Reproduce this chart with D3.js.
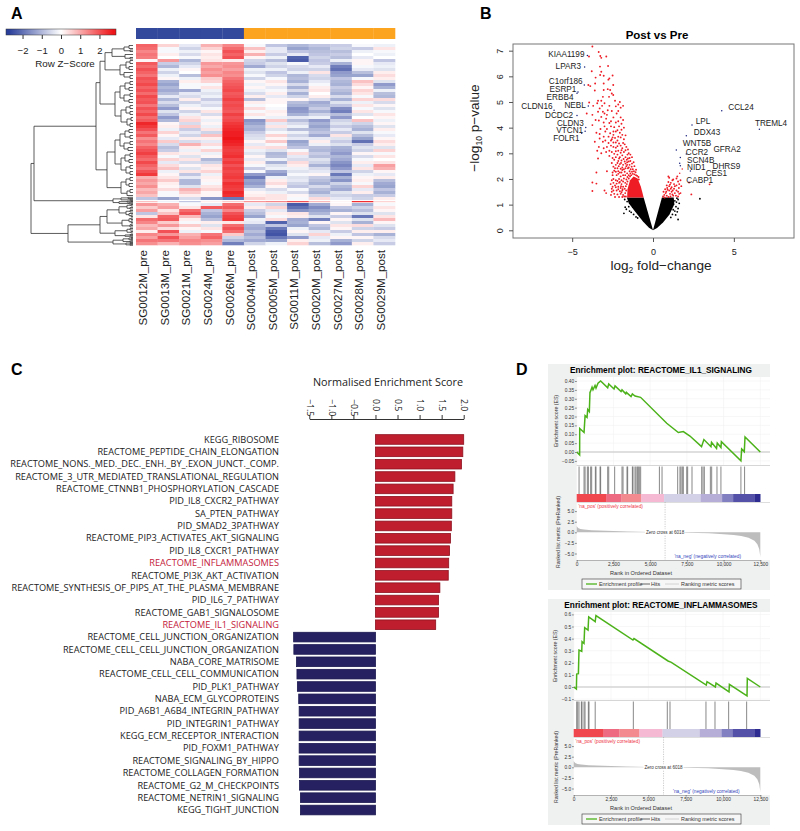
<!DOCTYPE html>
<html><head><meta charset="utf-8">
<script src="https://cdn.jsdelivr.net/npm/d3@7"></script>
<style>html,body{margin:0;padding:0;background:#fff}svg{display:block}text{font-family:"Liberation Sans",Arial,sans-serif}</style>
</head><body><svg id="c" width="800" height="831"></svg>
<script>
// ---------- Panel A data ----------
const samples=["SG0012M_pre","SG0013M_pre","SG0021M_pre","SG0024M_pre","SG0026M_pre","SG0004M_post","SG0005M_post","SG0011M_post","SG0020M_post","SG0027M_post","SG0028M_post","SG0029M_post"];
const sampleGroup=["pre","pre","pre","pre","pre","post","post","post","post","post","post","post"];
const zTicks=[-2,-1,0,1,2];
const heatRows=[
[1.8,.5,-.3,.9,1.4,-.1,-.8,-1,-.8,-.7,-.1,-.2],
[1.7,-.1,-.6,.5,1.7,.7,-.3,-1.3,-1,-.6,-.7,.3],
[1.4,-.1,-.2,.1,2,.2,-.3,-.8,-.9,-.9,-.2,-.1],
[1.6,.2,-.5,.3,1.8,.9,-.7,-.3,-.8,-.7,0,-.2],
[1.5,0,-.1,.2,2,.1,-.2,-2.2,-.6,-.9,-.3,0],
[.1,1.2,-1,.3,.2,-.6,-.9,-2.3,-.8,-.2,.1,-.8],
[1.9,-.7,-.6,1.2,1.2,-.7,-.4,-.1,-.7,-1.1,.1,-.3],
[1.7,-1,-.3,1,1.3,-1.2,-.6,-.5,-.3,-1.8,-.1,-.2],
[2,-.2,.1,1.3,1.1,-.2,-.2,-.6,-.6,-2,-.3,-.4],
[1.8,-.6,0,1.1,1.4,-.4,-.8,-.2,.3,-1.4,-.9,.2],
[1.6,-.2,-.9,1.3,1.3,-.1,-.6,-1,-.5,-1.3,-1.3,.4],
[2,.1,-.2,.6,1.6,-.6,-.1,-.9,-.6,-.8,-.1,.2],
[1.9,-1.1,.2,.5,1.8,.1,.3,-1.1,-.3,-1,.7,-.4],
[2.1,-1.3,-.1,-.1,1.9,-.2,.1,-.5,-.1,-1.1,.4,-1.4],
[1.8,-1,-.1,.3,2,.1,-.3,-1.1,.2,-.7,.1,-1.1],
[2,-1.2,-1.2,-.2,2.1,-.2,-.1,-.5,.3,-.9,.5,-.2],
[1.7,-.9,-.3,-.4,1.9,-.5,.2,-1.1,0,-1.1,.3,-.9],
[2.1,-.3,-.5,-.2,2,.2,-.3,-.6,.2,-.5,-.1,-1],
[1.9,-1,.2,-.7,2.2,-.9,.1,.1,-.5,-1.1,.5,.4],
[2,-.5,-.6,-.3,2,.2,.1,-.9,-1.2,-.4,-.2,-.5],
[1.6,-.9,-.2,-.5,2.1,-.1,0,-1.1,-1,-.8,.3,.1],
[2,-1.4,.1,-.1,2,.4,-.1,-1.5,-.7,-1.6,-.1,-.4],
[1.8,-.4,-.6,.3,1.9,-.1,.2,-1.4,-1.1,-1.8,.3,-.1],
[2.1,-.8,-.2,-.5,2.2,.3,.1,-1.1,-.6,-.9,-.4,.3],
[1.7,-1.4,.3,.1,2,-.1,-.2,-.3,-.2,-1.4,0,.1],
[1.9,-1,.5,-.2,2.1,-1.5,.6,-.9,-1.4,-.6,.7,-.2],
[2.5,.1,-.5,.1,2.3,-1.3,-.3,-.5,-1.1,-.4,-.6,.1],
[2.3,.2,.6,-.2,2.4,-1,.3,-.2,-1.3,-.7,-.9,-.4],
[2,-.2,-.7,.3,2.5,-1.1,-.4,-.9,-1,-.3,-1.1,.2],
[1.6,.5,-.3,-.6,2.6,-.7,-.1,-.2,-.8,-.7,-.4,-.1],
[1.9,.1,-.6,.7,2.6,-.5,.5,-.6,-1.2,.3,-.9,-.3],
[1.3,-.3,.2,.2,2.7,-.4,.1,-.3,-.3,-.4,-1.3,.1],
[1.6,.6,-.5,-.3,2.6,.1,.6,-1.3,.2,-.7,-2,.4],
[1.4,-.5,.9,.4,2.5,-.3,-.1,-1.1,-.2,-.4,-.7,.2],
[1.8,-.9,.2,-.1,2.3,.3,.4,-.8,-.9,-1.1,-.4,-.4],
[2,-.7,-.2,.5,2.2,-.2,-.4,-.1,-1,-1.2,-.6,.5],
[2.2,.3,.2,-.2,2.3,-.4,-1,.4,-.7,-1.4,.1,-.1],
[1.9,-.1,-.4,.1,2.4,.1,-.9,-.3,-.9,-1,-.5,.3],
[1.7,.5,.3,-1,2.1,-.3,-.2,-.5,-.4,-1.2,-.1,0],
[2.1,-.3,-.5,-.6,2.3,.2,-1.1,.4,-.6,-1.5,.2,.3],
[1.8,.4,.1,.3,2,-.1,-.4,.2,-1.1,-1.7,-.3,1.1],
[1.6,.7,-.4,.2,2.2,-.7,-.2,-.2,-.5,-1.4,.3,.9],
[2,-.2,.3,.5,2.1,-.1,-1.2,-.4,-.3,-.8,-.6,.1],
[2.3,.1,-.8,-.2,2.2,-1.4,-1.5,-.1,.1,-1.9,-.2,-.3],
[.9,.3,-.3,.2,2.3,-1.9,-.2,-.4,-.7,-1.1,.1,.2],
[1.2,.6,-1,.1,2.1,-1.3,.2,-.3,-.9,-1.5,.2,-.9],
[1,.2,-1,-.1,2.4,-1.4,.4,-.6,-1.1,-.6,-.1,-1.2],
[1.3,.1,-.4,.3,2.3,-1.1,.1,-.8,-.5,-1,.5,-1.3],
[.8,.4,.9,.5,2.2,-.3,-.5,-.1,-.9,-1.2,-.3,-.8],
[1,-.1,.6,.1,2.5,.1,-.2,-.5,-1.1,-.4,.2,-1.1],
[.7,-.1,.2,.1,2.4,.2,.3,.1,-.6,-.6,-.7,-.7],
[-.8,-1.3,-.5,-1.5,-1.9,.5,.3,-.1,.4,-.3,-.6,.2],
[.7,-.2,-.8,.2,.6,1.2,1.4,2,.8,.1,2.4,.5],
[1.2,.9,-.1,-.3,1.7,-.3,-.6,-2.3,-1.2,.1,-1.1,-.1],
[.6,1.1,.3,1.9,1.9,.2,.5,-2,-1.6,-.8,-.6,.3],
[1.1,.3,1.7,-.8,1.4,-.7,-.3,-1.5,-1.3,-1.1,-.9,.1],
[-.8,.7,2,-1.1,2,-.9,.2,.3,-1,.1,-.4,-.4],
[.3,1.8,.8,-1.3,2.2,-1.3,-.1,.2,-.4,-.7,-1.9,.3],
[1.7,1.9,.2,-.9,2.3,-.2,.4,-1.2,-1.8,.1,-.4,.8],
[1.4,.6,-.1,.2,.3,-.3,-2.2,-1.1,.1,-.4,-1.1,.1],
[.8,1.2,.6,-.4,1.7,-1.1,-.8,-1.3,-.8,.3,.4,-.4],
[1,.4,.1,.3,2,-1.2,-1.9,-.2,-1,.1,-.6,-.7],
[.2,2,-.2,-.1,1.7,-.9,-2.3,.1,-.3,-.7,.2,.2],
[1.4,1.2,.9,1.6,.6,-1.2,-2.4,-.4,.5,-.2,-.8,-1.1],
[1.1,2,1.1,1.8,-.6,-.9,-1.9,-1.4,-.3,.1,.1,-.5],
[1.6,1.6,1.4,1.3,-1,-1.2,-1.3,.2,-.2,-1.1,-.6,-.3],
[1.3,.9,1.3,1.1,-1.8,-.6,-.2,.5,-.9,-1.4,.2,-.7]
];
// dendrogram: [merge height, child, child]; the numbers at the ends are row positions
const dendro=[102,
 [99,
  [37,
   [33,
    [28,
     [21,[9,[4,0,1],[3,1.5,2]],[8,3,[3,4,4.5]]],
     [13,[7,[3,5,6],[4,7,8]],[9,9,[3,10,11]]]],
    [18,
     [13,[8,[3,12,13],[4,14,15]],[9,[3,16,17],[4,18,19]]],
     [12,[7,[3,20,21],[3,22,23]],[6,[2,24,25],[3,26,27]]]]],
   [26,
    [18,
     [13,[8,[4,28,29],[3,30,31]],[9,[3,32,33],[5,34,35]]],
     [12,[8,[3,36,37],[4,38,39]],[7,[3,40,41],[3,42,43]]]],
    [12,[7,[3,44,45],[4,46,47]],[6,[3,48,49],50]]]],
  [20,[12,[5,50.6,51],[3,51.3,51.6]],[14,[6,[2,51.8,52],52.2],[4,52.5,52.8]]]],
 [65,
  [33,
   [26,
    [14,[6,[2,53,53.5],[3,54,54.5]],[7,[3,55,55.5],[4,56,[2,56.5,57]]]],
    [11,[4,[2,57.5,58],[2,58.5,59]],[3,[2,59.5,60],60.5]]],
   [18,[6,[3,61,61.5],[2,62,62.5]],[8,[3,63,63.3],63.6]]],
  [20,[10,[4,[2,64,64.3],[2,64.6,64.9]],[3,65.2,65.5]],[7,[3,65.7,66],[3,66.3,66.6]]]]];
// ---------- Panel B data ----------
const xTicksB=[-5,0,5], yTicksB=[0,1,2,3,4,5,6,7];
const redDenseOutline=[[-.58,1.28],[-.75,1.7],[-.95,2.02],[-1.2,2.1],[-1.42,1.95],[-1.58,1.6],[-1.6,1.28]];
const blackLeftOutline=[[0,0],[-.58,1.28],[-1.62,1.28],[-1.5,1.05],[-1.1,.72],[-.62,.34],[-.25,.1]];
const blackRightOutline=[[0,0],[.55,1.28],[1.28,1.28],[1.32,1.02],[1.02,.62],[.62,.3],[.25,.09]];
const blackPoints=[[2.9,1.23],[1.55,.42],[-1.8,.66],[-1.65,.82],[-1.25,.9],[-1.72,.9],[1.5,.72],[1.55,.85],[1.45,1.1],[1.55,1.2],[1.62,1.05],[-1.5,.92],[-1.6,1.12],[-1.75,1.2],[1.4,.6],[1.35,.75],[-1.45,.75],[-1.2,.62],[-1.05,.52],[-1.35,.7],[-.95,.48],[1.2,.62],[1.1,.5],[1.42,.92],[1.25,.8],[1.35,1.15],[1.48,1.25]];
const redPoints=[[-3.75,7.16],[-3.36,6.95],[-3.26,6.79],[-3.2,6.72],[-2.89,6.77],[-3.96,6.77],[-3.28,6.38],[-2.78,6.4],[-3.79,6.2],[-3.2,6.18],[-3.27,6.05],[-3.05,6.02],[-3.55,5.95],[-2.5,6.03],[-2.7,5.92],[-2.76,5.87],[-3.05,5.72],[-4.0,5.66],[-3.88,5.62],[-3.58,5.72],[-2.46,5.66],[-2.8,5.5],[-2.65,5.47],[-3.05,5.47],[-2.55,5.33],[-3.6,5.45],[-2.46,5.27],[-2.72,5.2],[-3.4,5.05],[-3.2,5.05],[-2.05,5.0],[-2.15,4.9],[-1.85,4.85],[-2.3,4.83],[-2.0,4.78],[-3.95,4.98],[-3.7,4.85],[-3.3,4.75],[-3.15,4.85],[-3.4,4.62],[-3.1,4.62],[-3.0,4.55],[-2.8,4.68],[-2.55,4.65],[-4.1,4.55],[-3.75,4.5],[-3.2,4.42],[-2.9,4.35],[-2.45,4.4],[-2.0,4.4],[-1.85,4.3],[-3.35,4.28],[-3.05,4.2],[-2.7,4.18],[-2.3,4.2],[-1.95,4.15],[-3.75,4.1],[-2.6,4.05],[-2.4,4.02],[-2.1,4.05],[-1.8,4.0],[-1.95,3.92],[-2.85,3.95],[-3.5,3.8],[-3.3,3.75],[-2.95,3.85],[-2.65,3.78],[-2.45,3.72],[-2.3,3.85],[-2.05,3.8],[-2.5,3.62],[-3.3,3.58],[-2.55,3.55],[-2.35,3.6],[-2.2,3.5],[-2.0,3.62],[-1.8,3.55],[-3.6,3.45],[-3.1,3.45],[-2.75,3.4],[-2.45,3.42],[-2.1,3.38],[-1.75,3.35],[-3.35,3.25],[-3.05,3.2],[-2.85,3.25],[-2.6,3.3],[-2.3,3.22],[-1.9,3.2],[-1.65,3.25],[-1.55,3.15],[-3.45,3.1],[-3.2,3.0],[-2.9,3.05],[-2.55,3.05],[-2.15,3.1],[-2.0,3.02],[-1.8,3.05],[-1.5,3.0],[-1.4,2.95],[-3.4,2.8],[-2.7,2.9],[-2.2,2.95],[-2.05,2.85],[-1.9,2.92],[-1.7,2.85],[-1.55,2.8],[-1.3,2.85],[-2.4,2.75],[-2.15,2.7],[-1.95,2.72],[-1.75,2.68],[-1.6,2.65],[-1.4,2.7],[-1.2,2.65],[-2.3,2.55],[-2.05,2.58],[-1.85,2.55],[-1.65,2.5],[-1.45,2.55],[-1.15,2.5],[-2.45,2.48],[-2.2,2.42],[-2,2.4],[-1.8,2.38],[-1.55,2.42],[-2.4,2.32],[-2.15,2.3],[-1.95,2.25],[-1.75,2.28],[-3.5,2.25],[-2.85,2.3],[-2.5,2.15],[-2.25,2.15],[-2,2.1],[-1.85,2.15],[-2.45,2.0],[-2.3,1.95],[-2.1,2.0],[-1.95,1.95],[-2.45,1.85],[-2.25,1.82],[-2.1,1.85],[-1.95,1.8],[-3.75,1.86],[-3.5,1.82],[-2.5,1.7],[-2.3,1.68],[-2.15,1.7],[-2,1.65],[-1.85,1.7],[-2.45,1.55],[-2.25,1.55],[-2.05,1.52],[-1.9,1.55],[-3.75,1.53],[-3.0,1.55],[-2.9,1.45],[-2.4,1.42],[-2.2,1.4],[-2,1.42],[-1.85,1.38],[-2.35,1.3],[-1.9,1.3],[-1.78,1.32],
[.62,1.32],[.7,1.38],[.65,1.5],[.78,1.45],[.85,1.35],[.95,1.3],[1.05,1.42],[.75,1.6],[.9,1.58],[1.0,1.55],[1.15,1.5],[1.25,1.35],[1.35,1.45],[.85,1.75],[1,1.72],[1.15,1.68],[1.3,1.62],[1.45,1.55],[1.55,1.32],[.95,1.88],[1.1,1.85],[1.3,1.8],[1.45,1.75],[1.6,1.65],[1,2.05],[.95,2.1],[1.25,1.98],[1.45,2.02],[1.55,1.9],[1.7,1.95],[1.75,1.72],[1.5,2.1],[1.7,1.45],[2.37,1.4],[3.5,1.79],[2.23,1.86],[1.2,1.95],[1.62,1.8]];
const redPointsCore=[[-1.68,1.32],[-1.72,1.45],[-1.66,1.55],[-1.75,1.62],[-1.68,1.72],[-1.62,1.8],[-1.72,1.85],[-1.58,1.9],[-1.65,1.98],[-1.5,2.02],[-1.58,2.08],[-1.42,2.1],[-1.5,2.15],[-1.35,2.15],[-1.25,2.2],[-1.4,2.22],[-1.15,2.18],[-1.05,2.15],[-.98,2.12],[-1.3,2.28],[-1.18,2.3],[-1.08,2.26],[-1.45,2.3],[-1.6,2.22],[-.9,2.08],[-.88,1.98],[-1.25,2.38],[-1.38,2.38],[-1.05,2.36],[-1.5,2.45],[-1.32,2.48],[-1.72,2.15],[-1.8,2.02],[-1.85,1.9],[-1.88,1.6],[-1.95,1.48],[-2.1,1.3],[-2.15,1.6],[-1.98,1.72],[-2.05,1.88],[-2.2,1.92],[-2.35,1.75],[-2.55,1.5],[-2.6,1.38],[-2.55,1.62],[-2.62,1.8],[-2.55,1.95],[-2.5,2.25],[-2.3,2.28],[-2.15,2.2],[-2.05,2.25],[-1.9,2.35],[-1.7,2.42],[-1.6,2.55],[-1.9,2.45],[-2.12,2.5],[-2.35,2.42],[-2.55,2.62],[-2.2,2.62],[-1.98,2.62],[-1.7,2.6],[-1.5,2.68],[-1.3,2.6],[-2.3,2.85],[-2.5,2.82],[-2.1,2.8],[-1.82,2.78],[-1.62,2.75],[-1.45,2.82],[-2.4,2.98],[-2.7,3.1],[-2.3,3.08],[-1.95,3.12],[-1.7,3.12],[-1.58,2.95],[-2.45,3.25],[-2.2,3.28],[-2.0,3.3],[-1.85,3.4],[-2.3,3.42],[-2.6,3.5],[-2.95,3.5],[-2.15,3.65],[-1.9,3.72],[-2.45,3.85],[-2.2,3.9],[-2.75,3.65],[-3.05,3.65],[-1.7,3.7],[-2.6,4.25],[-2.15,4.25],[-2.85,4.5],[-2.25,4.55],[-2.7,4.85],[-3.45,4.95],[-3.1,5.2],[-3.0,4.95],[-2.35,5.05],[-2.15,4.65],[-3.55,4.3],[-3.25,3.95],[-3.0,4.05],
[.72,1.28],[.82,1.5],[1.08,1.32],[1.2,1.4],[1.42,1.35],[.88,1.65],[1.1,1.62],[1.22,1.55],[1.35,1.72],[1.05,1.78],[1.55,1.5],[1.62,1.42]];
const genes=["KIAA1199","LPAR3","C1orf186","ESRP1","ERBB4","NEBL","CLDN16","DCDC2","CLDN3","VTCN1","FOLR1","CCL24","TREML4","LPL","DDX43","WNT5B","GFRA2","CCR2","SCN4B","DHRS9","NID1","CES1","CABP1"];
const geneLfc=[-4.06,-4.23,-4.25,-4.7,-4.64,-4,-6.12,-4.7,-4.16,-4.2,-4.41,4.25,6.58,2.41,2.06,1.44,2.06,1.69,1.65,2.31,1.69,1.81,1.65];
const geneP=[6.81,6.36,5.66,5.34,5.39,4.84,4.68,4.47,4.01,3.86,3.78,4.66,3.94,4.1,3.68,3.13,2.97,2.84,2.61,2.31,2.52,2.39,2.22];
const labelLfc=[-5.36,-5.24,-5.4,-5.57,-5.75,-4.82,-7.18,-5.81,-5.11,-5.15,-5.36,5.44,7.3,3.09,3.34,2.72,4.58,2.72,2.95,4.54,2.68,3.92,2.89];
const labelP=[6.87,6.39,5.82,5.49,5.19,4.87,4.84,4.51,4.19,3.91,3.61,4.82,4.19,4.26,3.84,3.4,3.16,3.05,2.75,2.51,2.48,2.25,1.95];
// ---------- Panel C data ----------
const pathways=["KEGG_RIBOSOME","REACTOME_PEPTIDE_CHAIN_ELONGATION","REACTOME_NONS._MED._DEC._ENH._BY_.EXON_JUNCT._COMP.","REACTOME_3_UTR_MEDIATED_TRANSLATIONAL_REGULATION","REACTOME_CTNNB1_PHOSPHORYLATION_CASCADE","PID_IL8_CXCR2_PATHWAY","SA_PTEN_PATHWAY","PID_SMAD2_3PATHWAY","REACTOME_PIP3_ACTIVATES_AKT_SIGNALING","PID_IL8_CXCR1_PATHWAY","REACTOME_INFLAMMASOMES","REACTOME_PI3K_AKT_ACTIVATION","REACTOME_SYNTHESIS_OF_PIPS_AT_THE_PLASMA_MEMBRANE","PID_IL6_7_PATHWAY","REACTOME_GAB1_SIGNALOSOME","REACTOME_IL1_SIGNALING","REACTOME_CELL_JUNCTION_ORGANIZATION","REACTOME_CELL_CELL_JUNCTION_ORGANIZATION","NABA_CORE_MATRISOME","REACTOME_CELL_CELL_COMMUNICATION","PID_PLK1_PATHWAY","NABA_ECM_GLYCOPROTEINS","PID_A6B1_A6B4_INTEGRIN_PATHWAY","PID_INTEGRIN1_PATHWAY","KEGG_ECM_RECEPTOR_INTERACTION","PID_FOXM1_PATHWAY","REACTOME_SIGNALING_BY_HIPPO","REACTOME_COLLAGEN_FORMATION","REACTOME_G2_M_CHECKPOINTS","REACTOME_NETRIN1_SIGNALING","KEGG_TIGHT_JUNCTION"];
const nes=[2,1.98,1.95,1.8,1.76,1.73,1.73,1.72,1.7,1.68,1.66,1.65,1.46,1.43,1.43,1.365,-1.855,-1.85,-1.79,-1.78,-1.77,-1.74,-1.73,-1.73,-1.73,-1.73,-1.73,-1.72,-1.72,-1.7,-1.7];
const highlighted=["REACTOME_INFLAMMASOMES","REACTOME_IL1_SIGNALING"];
const nesTicks=[-1.5,-1,-.5,0,.5,1,1.5,2];
// ---------- Panel D data ----------
const rankTicks=[0,2500,5000,7500,10000,12500];
const metricTicks=[5,2.5,0,-2.5,-5];
const metricRank=[0,30,100,250,500,1000,2000,3500,5000,6018,7500,9000,10000,10700,11200,11700,12100,12300,12430,12490,12500];
const metricVal=[1.5,1.3,1.0,.8,.65,.5,.35,.2,.08,0,-.1,-.25,-.45,-.65,-.9,-1.3,-2,-2.8,-4,-5.5,-6];
const stripRanks=[0,2000,3050,4400,5950,8450,9900,10650,12100,12500];
const stripColors=["#f0474e","#ee6a80","#f28a90","#f5b9d4","#d3d1e8","#b7aed8","#8280c0","#5451a8","#2e2c90"];
const il1Rank=[0,200,205,500,570,705,750,860,905,910,1045,1110,1250,1315,1450,1630,2110,2180,2540,2610,3020,3085,3340,3380,3700,3790,3970,4350,6130,6920,7260,7710,8500,8660,9140,9180,9520,9570,9820,9850,11180,11230,11410,11460,12500];
const il1ES=[0,-.017,.133,.11,.205,.195,.24,.228,.34,.335,.365,.35,.375,.36,.387,.40,.362,.383,.355,.372,.34,.35,.328,.336,.312,.327,.315,.308,.162,.11,.115,.09,.03,.07,.03,.055,.02,.05,.025,.058,-.05,.017,.002,.085,0];
const il1Hits=[160,500,570,725,795,950,1020,1270,1315,1590,1630,2110,2180,2585,3085,3155,3425,3470,3790,3835,3970,4040,4130,4195,4265,4355,5630,5810,6875,7030,7100,7190,7260,7490,7555,7850,8510,8600,8690,9100,9190,9550,9820,11180,11430];
const inflRank=[0,180,200,315,335,355,540,560,690,735,960,1005,1440,1490,3970,4040,6320,6540,8880,8930,9490,9535,10405,10430,11610,11630,12500];
const inflES=[0,-.016,.107,.11,.21,.305,.295,.375,.36,.49,.47,.58,.54,.59,.388,.4,.215,.204,.016,.044,0,.033,-.04,.022,-.074,.072,0];
const inflHits=[200,270,355,514,558,692,760,982,1027,1440,3995,6270,6450,8860,9465,10380,11585];
const esTicksA=[.4,.35,.3,.25,.2,.15,.1,.05,0,-.05];
const esTicksB=[.6,.5,.4,.3,.2,.1,0,-.1];
// ---------- Drawing ----------
const svg=d3.select("#c");
function letter(t,x,y){svg.append("text").attr("x",x).attr("y",y).attr("font-size",16).attr("font-weight","bold").text(t);}
letter("A",11,19);letter("B",480,19);letter("C",11,375);letter("D",516,375);

// ---- A ----
const zColor=d3.scaleLinear().domain([-2.7,0,2.7]).range(["#2a3f9a","#ffffff","#ee1519"]).clamp(true);
const hx=d3.scaleBand().domain(d3.range(samples.length)).range([136,395]);
const hy=d3.scaleBand().domain(d3.range(heatRows.length)).range([44,245]);
const A=svg.append("g");
const gc={pre:"#33499b",post:"#fca41f"};
A.selectAll("rect.g").data(sampleGroup).join("rect").attr("x",(d,i)=>hx(i)).attr("width",hx.bandwidth()+.3).attr("y",28).attr("height",11).attr("fill",d=>gc[d]);
heatRows.forEach((row,r)=>{
 // the two narrow bands at the cluster boundary are thinner than the other rows in the reference
 A.append("g").selectAll("rect").data(row).join("rect").attr("x",(d,i)=>hx(i)).attr("y",hy(r)+(r===52?.9:0)).attr("width",hx.bandwidth()+.3).attr("height",r===52?1.6:hy.bandwidth()+.3).attr("fill",d=>zColor(d));
 if(r===52){A.append("g").selectAll("rect").data(row).join("rect").attr("x",(d,i)=>hx(i)).attr("y",hy(r)).attr("width",hx.bandwidth()+.3).attr("height",.9).attr("fill",zColor(0));A.append("g").selectAll("rect").data(row).join("rect").attr("x",(d,i)=>hx(i)).attr("y",hy(r)+2.5).attr("width",hx.bandwidth()+.3).attr("height",.8).attr("fill",zColor(0));}
});
samples.forEach((s,i)=>{
 A.append("text").attr("transform",`translate(${hx(i)+hx.bandwidth()/2+.5},250) rotate(-90)`).attr("text-anchor","end").attr("font-size",11.6).attr("fill","#222").text(s);
});
// key
const kx=d3.scaleLinear().domain([-2.86,2.86]).range([6,116]);
const lg=svg.append("defs").append("linearGradient").attr("id","key");
[-2.7,-1.35,0,1.35,2.7].forEach(v=>lg.append("stop").attr("offset",(kx(v)-6)/110).attr("stop-color",zColor(v)));
A.append("rect").attr("x",6).attr("y",29).attr("width",110).attr("height",6).attr("fill","url(#key)").attr("stroke","#333").attr("stroke-width",.5);
const keyAxis=d3.axisBottom(kx).tickValues(zTicks).tickSize(4).tickFormat(d=>d<0?"\u2212"+(-d):d);
const kg=A.append("g").attr("transform","translate(0,35)").call(keyAxis);
kg.select(".domain").remove();kg.selectAll("line").attr("stroke","#333");
kg.selectAll("text").attr("font-size",9.5).attr("fill","#222").attr("y",12).attr("dy","0.71em");
A.append("text").attr("x",65).attr("y",67).attr("text-anchor","middle").attr("font-size",9.8).attr("fill","#222").text("Row Z\u2212Score");
// dendrogram
const dh=d3.scaleLinear().domain([0,102]).range([133,31]);
const dLines=[];
const rowMid=r=>hy(0)+hy.step()*(r+.5);
function layout(n){
 if(typeof n==="number")return{y:rowMid(n),h:0};
 const a=layout(n[1]),b=layout(n[2]);
 dLines.push([n[0],a.y,n[0],b.y],[n[0],a.y,a.h,a.y],[n[0],b.y,b.h,b.y]);
 return{y:(a.y+b.y)/2,h:n[0]};
}
layout(dendro);
A.append("g").selectAll("line").data(dLines).join("line").attr("x1",d=>dh(d[0])).attr("x2",d=>dh(d[2])).attr("y1",d=>d[1]).attr("y2",d=>d[3]).attr("stroke","#333").attr("stroke-width",.8);

// ---- B ----
const bx=d3.scaleLinear().domain([-8.66,8.72]).range([513,794]);
const by=d3.scaleLinear().domain([-.3,7.26]).range([238,44]);
const B=svg.append("g");
const polyLine=d3.line().x(d=>bx(d[0])).y(d=>by(d[1])).curve(d3.curveLinearClosed);
B.append("path").attr("d",polyLine(blackLeftOutline)).attr("fill","#000");
B.append("path").attr("d",polyLine(blackRightOutline)).attr("fill","#000");
B.append("path").attr("d",polyLine(redDenseOutline)).attr("fill","#ee1c25");
B.append("g").selectAll("circle").data(blackPoints).join("circle").attr("cx",d=>bx(d[0])).attr("cy",d=>by(d[1])).attr("r",.9).attr("fill","#000");
B.append("g").selectAll("circle").data(redPoints.concat(redPointsCore)).join("circle").attr("cx",d=>bx(d[0])).attr("cy",d=>by(d[1])).attr("r",.95).attr("fill","#ee1c25");
B.append("g").selectAll("circle").data(genes).join("circle").attr("cx",(d,i)=>bx(geneLfc[i])).attr("cy",(d,i)=>by(geneP[i])).attr("r",.75).attr("fill",(d,i)=>(d==="CES1"||d==="CABP1")?"#ee1c25":"#1a237e");
B.append("g").selectAll("text").data(genes).join("text").attr("x",(d,i)=>bx(labelLfc[i])).attr("y",(d,i)=>by(labelP[i])+3).attr("text-anchor","middle").attr("font-size",8.2).attr("fill","#222").text(d=>d);
B.append("rect").attr("x",513).attr("y",44).attr("width",281).attr("height",194).attr("fill","none").attr("stroke","#777").attr("stroke-width",1);
const bxa=B.append("g").attr("transform","translate(0,238)").call(d3.axisBottom(bx).tickValues(xTicksB).tickSize(4).tickFormat(d=>d<0?"\u2212"+(-d):d));
bxa.select(".domain").remove();bxa.selectAll("line").attr("stroke","#555");bxa.selectAll("text").attr("font-size",9).attr("fill","#222").attr("y",11);
const bya=B.append("g").attr("transform","translate(513,0)").call(d3.axisLeft(by).tickValues(yTicksB).tickSize(4));
bya.select(".domain").remove();bya.selectAll("line").attr("stroke","#555");
bya.selectAll("text").attr("font-size",9).attr("fill","#222").attr("x",0).attr("y",0).attr("dy",0).attr("text-anchor","middle").attr("transform","translate(-10,0) rotate(-90)");
B.append("text").attr("x",657).attr("y",39).attr("text-anchor","middle").attr("font-size",11.5).attr("font-weight","bold").text("Post vs Pre");
const xl=B.append("text").attr("x",661).attr("y",270).attr("text-anchor","middle").attr("font-size",13.6).attr("fill","#222");
xl.append("tspan").text("log");xl.append("tspan").attr("font-size",8.5).attr("dy",3).text("2");xl.append("tspan").attr("dy",-3).text(" fold\u2212change");
const yl=B.append("text").attr("transform","translate(479,128) rotate(-90)").attr("text-anchor","middle").attr("font-size",13.6).attr("fill","#222");
yl.append("tspan").text("\u2212log");yl.append("tspan").attr("font-size",8.5).attr("dy",3).text("10");yl.append("tspan").attr("dy",-3).text(" p\u2212value");

// ---- C ----
const cx=d3.scaleLinear().domain([-1.5,2]).range([309.3,463.7]);
const cy=d3.scaleBand().domain(pathways).range([433.3,816.2]).paddingInner(.22).paddingOuter(.11);
const C=svg.append("g");
C.append("g").selectAll("rect").data(nes).join("rect").attr("x",d=>cx(Math.min(0,d))).attr("width",d=>Math.abs(cx(d)-cx(0))).attr("y",(d,i)=>cy(pathways[i])).attr("height",cy.bandwidth()).attr("fill",d=>d>0?"#be1e2d":"#262262").attr("stroke",d=>d>0?"#8e1220":"#1b1850").attr("stroke-width",.8);
C.append("g").selectAll("text").data(pathways).join("text").attr("x",279).attr("y",d=>cy(d)+cy.bandwidth()/2+3.2).attr("text-anchor","end").attr("font-size",9.2).attr("fill",d=>highlighted.includes(d)?"#c4193a":"#222").style("font-family","'Open Sans'").text(d=>d);
const ca=C.append("g").attr("transform","translate(0,419)").call(d3.axisTop(cx).tickValues(nesTicks).tickSize(4).tickSizeOuter(0).tickFormat(d=>(d<0?"\u2212":"")+Math.abs(d).toFixed(1)));
ca.select(".domain").attr("stroke","#333");ca.selectAll("line").attr("stroke","#333");
ca.selectAll("text").attr("font-size",8.8).attr("fill","#222").attr("text-anchor","start").attr("x",0).attr("dy",0).attr("y",0).attr("transform","translate(-3,-20) rotate(90)").style("font-family","'Open Sans'");
C.append("text").attr("x",388).attr("y",386).attr("text-anchor","middle").attr("font-size",10.8).attr("fill","#222").style("font-family","'Open Sans'").text("Normalised Enrichment Score");

// ---- D ----
function gsea(o){
 const g=svg.append("g").attr("transform",`translate(0,${o.dy})`);
 g.append("rect").attr("x",548).attr("y",364).attr("width",222).attr("height",226).attr("fill","#eff0f0");
 g.append("rect").attr("x",o.left).attr("y",377).attr("width",770-o.left).attr("height",183).attr("fill","#fff");
 g.append("text").attr("x",661).attr("y",373).attr("text-anchor","middle").attr("font-size",8.25).attr("font-weight","bold").text(o.title);
 const x=d3.scaleLinear().domain([0,12500]).range([o.left,760.3]);
 const y=d3.scaleLinear().domain(o.esDomain).range(o.esRange);
 g.append("g").selectAll("line").data(o.esTicks).join("line").attr("x1",o.left).attr("x2",770).attr("y1",d=>y(d)).attr("y2",d=>y(d)).attr("stroke","#eee").attr("stroke-width",.5);
 g.append("g").selectAll("line").data(rankTicks).join("line").attr("x1",d=>x(d)).attr("x2",d=>x(d)).attr("y1",377).attr("y2",465).attr("stroke","#eee").attr("stroke-width",.5);
 g.append("line").attr("x1",o.left).attr("x2",770).attr("y1",y(0)).attr("y2",y(0)).attr("stroke","#c4c4c4").attr("stroke-width",1.2);
 g.append("path").attr("d",d3.line().x(d=>x(d[0])).y(d=>y(d[1]))(d3.zip(o.rank,o.es))).attr("fill","none").attr("stroke","#4cb21a").attr("stroke-width",1.5);
 const ea=g.append("g").attr("transform",`translate(${o.left},0)`).call(d3.axisLeft(y).tickValues(o.esTicks).tickSize(1.5).tickFormat(d3.format(o.fmt)));
 ea.select(".domain").remove();ea.selectAll("line").attr("stroke","#777");ea.selectAll("text").attr("font-size",4.8).attr("fill","#333").attr("x",-2.5);
 g.append("rect").attr("x",o.left).attr("y",465).attr("width",770-o.left).attr("height",.6).attr("fill","#bbb");
 g.append("text").attr("transform",`translate(${o.esLabelX},421) rotate(-90)`).attr("text-anchor","middle").attr("font-size",5.2).attr("fill","#333").text("Enrichment score (ES)");
 g.append("g").selectAll("line").data(o.hits).join("line").attr("x1",d=>x(d)).attr("x2",d=>x(d)).attr("y1",466.5).attr("y2",494).attr("stroke","#555").attr("stroke-width",.7);
 g.append("g").selectAll("rect").data(stripColors).join("rect").attr("x",(d,i)=>x(stripRanks[i])).attr("width",(d,i)=>x(stripRanks[i+1])-x(stripRanks[i])+.2).attr("y",494).attr("height",8).attr("fill",d=>d);
 g.append("rect").attr("x",o.left).attr("y",502).attr("width",770-o.left).attr("height",.5).attr("fill","#bbb");
 const m=d3.scaleLinear().domain([-5,5]).range([553.5,511.1]);
 g.append("path").attr("d",d3.area().x(d=>x(d[0])).y0(m(0)).y1(d=>m(d[1]))(d3.zip(metricRank,metricVal))).attr("fill","#bdbdbd");
 g.append("line").attr("x1",x(6018)).attr("x2",x(6018)).attr("y1",502).attr("y2",560).attr("stroke","#999").attr("stroke-width",.5).attr("stroke-dasharray","1.2,1.2");
 g.append("rect").attr("x",x(6018)-20).attr("y",m(0)-3).attr("width",40).attr("height",6).attr("fill","#fff");
 g.append("text").attr("x",x(6018)).attr("y",m(0)+1.5).attr("text-anchor","middle").attr("font-size",4.6).attr("fill","#333").text("Zero cross at 6018");
 g.append("text").attr("x",x(120)).attr("y",507.5).attr("font-size",4.8).attr("fill","#ee3344").text("'na_pos' (positively correlated)");
 g.append("text").attr("x",x(6650)).attr("y",558).attr("font-size",4.8).attr("fill","#3344bb").text("'na_neg' (negatively correlated)");
 const ma=g.append("g").attr("transform",`translate(${o.left},0)`).call(d3.axisLeft(m).tickValues(metricTicks).tickSize(1.5).tickFormat(d3.format(".1f")));
 ma.select(".domain").remove();ma.selectAll("line").attr("stroke","#777");ma.selectAll("text").attr("font-size",4.8).attr("fill","#333").attr("x",-2.5);
 g.append("text").attr("transform",`translate(${o.metricLabelX},532) rotate(-90)`).attr("text-anchor","middle").attr("font-size",5.2).attr("fill","#333").text("Ranked list metric (PreRanked)");
 const ra=g.append("g").attr("transform","translate(0,560)").call(d3.axisBottom(x).tickValues(rankTicks).tickSize(1.5).tickFormat(d3.format(",")));
 ra.select(".domain").attr("stroke","#777").attr("stroke-width",.5);ra.selectAll("line").attr("stroke","#777");ra.selectAll("text").attr("font-size",4.8).attr("fill","#333").attr("y",3);
 g.append("text").attr("x",o.rankLabelX).attr("y",574.5).attr("text-anchor","middle").attr("font-size",5.6).attr("fill","#333").text("Rank in Ordered Dataset");
 g.append("rect").attr("x",582).attr("y",579).attr("width",159).attr("height",10).attr("fill","#f6f6f6").attr("stroke","#333").attr("stroke-width",.6);
 const L=[["Enrichment profile","#4cb21a",1.3,586,597,599],["Hits","#555",.9,641,650,651],["Ranking metric scores","#ccc",.8,665,679,681]];
 L.forEach(r=>{g.append("line").attr("x1",r[3]).attr("x2",r[4]).attr("y1",584).attr("y2",584).attr("stroke",r[1]).attr("stroke-width",r[2]);
  g.append("text").attr("x",r[5]).attr("y",586).attr("font-size",5.4).attr("fill","#333").text(r[0]);});
}
gsea({dy:0,title:"Enrichment plot: REACTOME_IL1_SIGNALING",left:576.7,rank:il1Rank,es:il1ES,hits:il1Hits,esDomain:[0,.4],esRange:[452,381],esTicks:esTicksA,fmt:".2f",esLabelX:558,metricLabelX:560,rankLabelX:641});
gsea({dy:235,title:"Enrichment plot: REACTOME_INFLAMMASOMES",left:573.7,rank:inflRank,es:inflES,hits:inflHits,esDomain:[0,.6],esRange:[452,379.4],esTicks:esTicksB,fmt:".1f",esLabelX:557,metricLabelX:558,rankLabelX:641});
</script></body></html>
